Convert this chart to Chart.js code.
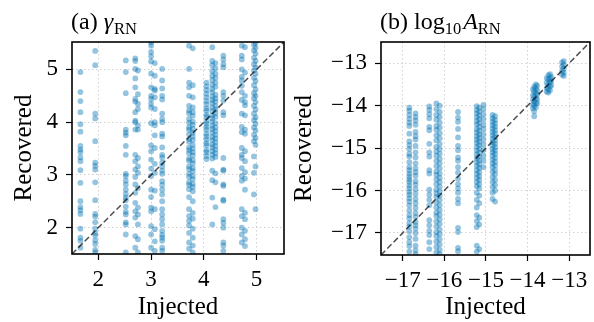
<!DOCTYPE html>
<html>
<head>
<meta charset="utf-8">
<script src="https://cdn.jsdelivr.net/npm/chart.js@4.4.0/dist/chart.umd.min.js"></script>
<style>
  html, body { margin: 0; padding: 0; background: #fff; }
  #wrap { position: relative; width: 594px; height: 322px; overflow: hidden; }
  canvas { position: absolute; top: 0; }
  #c1 { left: 0; }
  #c2 { left: 280px; }
</style>
</head>
<body>
<div id="wrap">
  <canvas id="c1" width="297" height="322"></canvas>
  <canvas id="c2" width="314" height="322"></canvas>
</div>
<script>
// panel (a): gamma_RN, injected value of each column and the recovered values in it
var gammaInjected = [1.66, 1.94, 2.52, 2.70, 2.75, 3.00, 3.07, 3.21, 3.72, 3.79, 4.05, 4.16, 4.22, 4.37, 4.72, 4.78, 4.95, 4.98];
var gammaRecovered = [
  [4.95, 4.57, 4.40, 4.19, 3.96, 3.82, 3.55, 3.48, 3.43, 3.33, 3.26, 3.09, 2.85, 2.50, 2.39, 2.33, 2.26, 1.98, 1.81, 1.75, 1.62],
  [5.35, 5.08, 4.16, 4.07, 3.64, 3.23, 3.17, 3.10, 2.86, 2.52, 2.26, 2.21, 2.10, 1.98, 1.90, 1.85, 1.76, 1.69, 1.58, 1.53],
  [5.17, 4.95, 4.55, 3.86, 3.80, 3.75, 3.55, 3.38, 3.02, 2.98, 2.89, 2.82, 2.72, 2.64, 2.57, 2.52, 2.40, 2.30, 2.25, 2.10, 2.06, 1.87, 1.53],
  [5.21, 5.16, 5.01, 4.83, 4.66, 4.44, 4.39, 4.19, 4.03, 4.00, 3.86, 3.38, 3.26, 3.10, 2.96, 2.82, 2.66, 2.47, 2.31, 2.19, 1.84, 1.62],
  [4.98, 4.53, 4.35, 4.25, 3.94, 3.86, 3.32, 3.16, 3.04, 2.75, 2.38, 2.25, 2.06, 1.78, 1.53],
  [5.51, 5.45, 5.33, 5.25, 5.15, 4.92, 4.66, 4.50, 4.44, 4.35, 4.28, 3.98, 3.56, 3.45, 3.29, 3.12, 2.98, 2.72, 2.58, 2.38, 2.31, 2.03, 1.87, 1.62],
  [5.12, 4.88, 4.63, 4.60, 4.47, 4.25, 4.00, 3.94, 3.75, 3.51, 3.21, 3.04, 2.70, 2.35, 1.97, 1.74, 1.56],
  [5.01, 4.79, 4.64, 4.50, 4.43, 4.16, 4.06, 4.00, 3.78, 3.73, 3.52, 3.38, 3.33, 3.23, 3.16, 3.08, 3.02, 2.88, 2.81, 2.72, 2.63, 2.50, 2.35, 2.25, 2.16, 2.06, 1.94, 1.86, 1.81, 1.75, 1.62, 1.56],
  [5.45, 5.01, 4.75, 4.66, 4.50, 4.31, 4.22, 4.17, 4.06, 3.99, 3.90, 3.86, 3.77, 3.68, 3.63, 3.52, 3.47, 3.41, 3.31, 3.27, 3.16, 3.11, 3.02, 2.96, 2.86, 2.81, 2.73, 2.58, 2.35, 2.22, 2.13, 2.04, 1.90, 1.72, 1.60],
  [5.40, 4.70, 4.47, 4.28, 4.19, 4.12, 4.01, 3.95, 3.87, 3.80, 3.73, 3.66, 3.57, 3.50, 3.43, 3.37, 3.28, 3.22, 3.13, 3.07, 2.98, 2.92, 2.83, 2.77, 2.69, 2.50, 2.28, 2.17, 1.98, 1.81, 1.66, 1.53],
  [4.75, 4.68, 4.61, 4.54, 4.47, 4.40, 4.34, 4.26, 4.22, 4.14, 4.10, 4.02, 3.97, 3.91, 3.86, 3.78, 3.73, 3.67, 3.60, 3.56, 3.47, 3.43, 3.36, 3.30],
  [5.42, 5.16, 5.08, 4.97, 4.88, 4.80, 4.71, 4.63, 4.57, 4.49, 4.42, 4.36, 4.28, 4.21, 4.13, 4.07, 4.01, 3.93, 3.87, 3.80, 3.72, 3.66, 3.58, 3.52, 3.45, 3.38, 3.31, 3.08, 2.90, 2.57, 2.06],
  [5.12, 5.02, 4.92, 4.84, 4.75, 4.67, 4.52, 4.45, 4.39, 4.31, 4.24, 4.17, 4.10, 3.98, 3.90, 3.83, 3.76, 3.69, 3.62, 3.55, 3.48, 3.41, 3.34, 3.03, 2.86, 2.39],
  [5.26, 5.19, 5.10, 5.04, 4.57, 4.50, 4.41, 4.19, 4.13, 3.32, 3.10, 3.08, 2.82, 2.79, 2.53, 2.51, 2.16, 2.09, 2.00, 1.72, 1.66, 1.56],
  [5.45, 5.26, 5.19, 5.00, 4.86, 4.79, 4.69, 4.57, 4.42, 4.16, 3.91, 3.81, 3.51, 3.38, 3.32, 3.13, 2.98, 2.89, 2.35, 2.22, 2.00, 1.87, 1.72],
  [5.42, 4.94, 4.50, 4.38, 4.32, 4.13, 3.86, 3.78, 3.45, 3.26, 3.05, 2.93, 2.72, 2.28, 2.16, 1.94, 1.78, 1.65],
  [5.47, 5.36, 5.22, 5.10, 4.98, 4.84, 4.70, 4.55, 4.45, 4.31, 4.16, 4.04, 3.90, 3.76, 3.64, 3.35, 3.04, 2.63],
  [5.50, 5.41, 5.30, 5.16, 5.04, 4.92, 4.78, 4.62, 4.50, 4.38, 4.24, 4.09, 3.97, 3.84, 3.70, 3.57, 3.16, 2.35]
];
var gammaTicks = [2, 3, 4, 5];
var gammaLim = [1.5, 5.52];

// panel (b): log10 A_RN
var ampInjected = [-16.84, -16.69, -16.36, -16.19, -16.11, -15.67, -15.22, -15.16, -15.06, -14.84, -14.78,
  -13.87, -13.84, -13.80, -13.77, -13.54, -13.50, -13.46, -13.43, -13.17, -13.13];
var ampRecovered = [
  [-14.05, -14.12, -14.22, -14.31, -14.40, -14.48, -14.66, -14.84, -14.93, -15.02, -15.14, -15.20, -15.33, -15.45, -15.52, -15.60, -15.67, -15.74, -15.80, -15.88, -15.95, -16.03, -16.10, -16.18, -16.26, -16.35, -16.47, -16.58, -16.66, -16.77, -16.85, -16.96, -17.10, -17.22, -17.31, -17.44],
  [-14.18, -14.27, -14.35, -14.45, -14.62, -14.72, -14.80, -14.95, -15.10, -15.22, -15.36, -15.48, -15.57, -15.65, -15.78, -15.86, -15.97, -16.08, -16.20, -16.30, -16.41, -16.53, -16.62, -16.74, -16.82, -16.90, -17.01, -17.14, -17.30, -17.41, -17.50],
  [-14.02, -14.10, -14.20, -14.30, -14.50, -14.58, -14.90, -15.10, -15.20, -15.52, -15.60, -15.98, -16.10, -16.22, -16.35, -16.70, -16.82, -16.95, -17.05, -17.22, -17.38],
  [-13.95, -14.08, -14.22, -14.33, -14.48, -14.57, -14.70, -14.82, -14.97, -15.08, -15.18, -15.30, -15.42, -15.55, -15.63, -15.74, -15.85, -15.98, -16.07, -16.15, -16.28, -16.40, -16.52, -16.60, -16.73, -16.85, -16.98, -17.07, -17.20, -17.33, -17.46],
  [-14.00, -14.15, -14.27, -14.40, -14.52, -14.65, -14.77, -14.90, -15.02, -15.13, -15.25, -15.36, -15.48, -15.60, -15.70, -15.80, -15.91, -16.02, -16.12, -16.22, -16.34, -16.46, -16.57, -16.68, -16.79, -16.92, -17.03, -17.15, -17.27, -17.40, -17.50],
  [-14.15, -14.28, -14.38, -14.55, -14.75, -14.95, -15.05, -15.22, -15.30, -15.45, -15.58, -15.72, -15.85, -15.95, -16.05, -16.20, -16.30, -16.88, -16.98, -17.35, -17.43],
  [-14.01, -14.10, -14.18, -14.27, -14.36, -14.44, -14.55, -14.63, -14.72, -14.80, -14.88, -14.97, -15.06, -15.15, -15.24, -15.33, -15.42, -15.52, -15.61, -15.70, -15.80, -15.90, -16.05, -16.22, -16.40, -16.58, -16.72, -16.86, -17.30, -17.44],
  [-14.05, -14.14, -14.23, -14.32, -14.41, -14.50, -14.59, -14.68, -14.76, -14.85, -14.93, -15.02, -15.11, -15.20, -15.29, -15.38, -15.47, -15.57, -15.66, -15.75, -15.85, -15.95, -16.12, -16.30, -16.64, -16.80, -17.38],
  [-13.98, -14.08, -14.20, -14.32, -14.45, -14.55, -14.68, -14.80, -14.92, -15.05, -15.18, -15.30, -15.45],
  [-14.22, -14.30, -14.38, -14.46, -14.54, -14.62, -14.70, -14.78, -14.86, -14.94, -15.02, -15.10, -15.18, -15.27, -15.36, -15.45, -15.56, -15.68, -15.80, -15.92, -16.05, -16.20],
  [-14.25, -14.34, -14.42, -14.50, -14.58, -14.66, -14.74, -14.82, -14.90, -14.98, -15.06, -15.14, -15.23, -15.32, -15.41, -15.52, -15.62, -15.75, -15.87, -16.00, -16.26],
  [-13.62, -13.75, -13.86, -13.97, -14.06],
  [-13.55, -13.66, -13.78, -13.90, -14.00, -14.13, -14.25],
  [-13.50, -13.60, -13.71, -13.82, -13.93, -14.04],
  [-13.53, -13.64, -13.74, -13.85, -13.95],
  [-13.35, -13.46, -13.58, -13.67],
  [-13.28, -13.38, -13.50, -13.61, -13.69],
  [-13.26, -13.36, -13.44, -13.55, -13.64],
  [-13.32, -13.42, -13.52],
  [-12.98, -13.08, -13.18, -13.27],
  [-12.95, -13.04, -13.13, -13.22, -13.30]
];
var ampTicks = [-17, -16, -15, -14, -13];
var ampLim = [-17.52, -12.5];

var FONT = 'Liberation Serif';

function toPoints(injected, recovered) {
  var pts = [];
  for (var i = 0; i < injected.length; i++) {
    for (var j = 0; j < recovered[i].length; j++) {
      pts.push({x: injected[i], y: recovered[i][j]});
    }
  }
  return pts;
}

// black box all round the plot area
var framePlugin = {
  id: 'frame',
  afterDraw: function(chart) {
    var a = chart.chartArea, ctx = chart.ctx;
    ctx.save();
    ctx.strokeStyle = '#000';
    ctx.lineWidth = 1.6;
    ctx.strokeRect(a.left, a.top, a.right - a.left, a.bottom - a.top);
    ctx.restore();
  }
};

// panel title with italic and subscript pieces
var titlePlugin = {
  id: 'panelTitle',
  afterDraw: function(chart, args, opts) {
    var ctx = chart.ctx;
    var x = chart.chartArea.left - 1;
    var y = 29;
    ctx.save();
    ctx.fillStyle = '#000';
    ctx.textBaseline = 'alphabetic';
    opts.parts.forEach(function(p) {
      var size = p.sub ? 16.5 : 24;
      ctx.font = (p.italic ? 'italic ' : '') + size + 'px "' + FONT + '"';
      ctx.fillText(p.text, x, y + (p.sub ? 5 : 0));
      x += ctx.measureText(p.text).width + (p.gap || 0);
    });
    ctx.restore();
  }
};

function axisOpts(lim, tickVals, title, size, tickPad, titlePad) {
  return {
    type: 'linear',
    min: lim[0],
    max: lim[1],
    afterBuildTicks: function(s) {
      s.ticks = tickVals.map(function(v) { return {value: v}; });
    },
    afterFit: function(s) {
      if (s.isHorizontal()) s.height = size; else s.width = size;
    },
    grid: { color: '#c4c4c4', lineWidth: 0.8, tickColor: '#000', tickLength: 6, tickWidth: 1.2, tickBorderDash: [] },
    border: { display: false, dash: [1.5, 2.5] },
    ticks: {
      color: '#000',
      font: { family: FONT, size: 23 },
      padding: tickPad,
      autoSkip: false,
      maxRotation: 0,
      callback: function(v) { return String(v).replace('-', '\u2212'); }
    },
    title: { display: true, text: title, color: '#000', font: { family: FONT, size: 25 }, padding: titlePad }
  };
}

function makeChart(id, injected, recovered, lim, ticks, yW, xH, padRight, parts) {
  return new Chart(document.getElementById(id), {
    type: 'scatter',
    data: {
      datasets: [
        {
          data: [{x: lim[0], y: lim[0]}, {x: lim[1], y: lim[1]}],
          showLine: true,
          borderColor: 'rgba(0,0,0,0.7)',
          borderWidth: 1.5,
          borderDash: [6, 3],
          pointRadius: 0,
          order: 0,
          clip: 0
        },
        {
          data: toPoints(injected, recovered),
          backgroundColor: 'rgba(0,114,178,0.42)',
          borderWidth: 0,
          pointRadius: 2.9,
          order: 1,
          clip: 0
        }
      ]
    },
    options: {
      responsive: false,
      animation: false,
      devicePixelRatio: 1,
      layout: { padding: { top: 42, right: padRight, left: 0, bottom: 0 } },
      plugins: {
        legend: { display: false },
        tooltip: { enabled: false },
        panelTitle: { parts: parts }
      },
      scales: {
        x: axisOpts(lim, ticks, 'Injected', xH, 6, { top: 0, bottom: 0 }),
        y: axisOpts(lim, ticks, 'Recovered', yW, 8, { top: 9, bottom: 0 })
      }
    },
    plugins: [framePlugin, titlePlugin]
  });
}

makeChart('c1', gammaInjected, gammaRecovered, gammaLim, gammaTicks, 72, 68, 13,
  [{text: '(a) '}, {text: '\u03b3', italic: true, gap: 1}, {text: 'RN', sub: true}]);

makeChart('c2', ampInjected, ampRecovered, ampLim, ampTicks, 101, 67, 2,
  [{text: '(b) log'}, {text: '10', sub: true, gap: 2}, {text: 'A', italic: true}, {text: 'RN', sub: true}]);
</script>
</body>
</html>
